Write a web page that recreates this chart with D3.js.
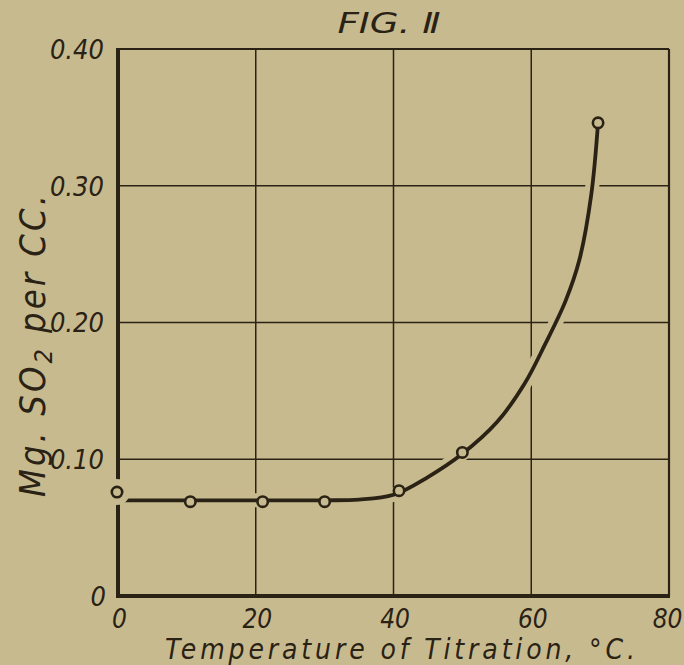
<!DOCTYPE html>
<html>
<head>
<meta charset="utf-8">
<script src="https://cdn.jsdelivr.net/npm/d3@7"></script>
<style>
  html, body { margin: 0; padding: 0; background: #c8ba8f; }
  svg text { font-family: "DejaVu Sans Condensed", "DejaVu Sans", sans-serif; font-stretch: condensed; font-style: oblique; fill: #2a2214; }
</style>
</head>
<body>
<script>
// axis ticks
const xTicks = [0, 20, 40, 60, 80];
const yTicks = [0, 0.1, 0.2, 0.3, 0.4];
const yTickLabels = ["0", "0.10", "0.20", "0.30", "0.40"];

// observed points (circles)
const tempObs = [0, 10.5, 21, 30, 40.8, 50, 69.7];
const so2Obs = [0.076, 0.069, 0.069, 0.069, 0.077, 0.105, 0.346];

// hand drawn smooth curve through the points
const curveTemp = [0, 10, 20, 30, 35, 40, 45, 50, 55, 59, 62, 65, 67, 68.7, 69.7];
const curveSo2 = [0.070, 0.070, 0.070, 0.070, 0.0705, 0.074, 0.087, 0.104, 0.127, 0.155, 0.184, 0.216, 0.246, 0.293, 0.346];

const W = 684, H = 665;
const ink = "#2a2214", paper = "#c8ba8f";

const svg = d3.select("body").append("svg")
    .attr("width", W)
    .attr("height", H);

svg.append("rect").attr("width", W).attr("height", H).attr("fill", paper);

const x = d3.scaleLinear().domain([0, 80]).range([118, 669]);
const y = d3.scaleLinear().domain([0, 0.4]).range([596, 49]);

// grid lines
const grid = svg.append("g").attr("stroke", ink);
grid.selectAll("line.gx")
    .data(xTicks.slice(1, -1))
    .enter().append("line")
    .attr("class", "gx")
    .attr("x1", d => x(d)).attr("x2", d => x(d))
    .attr("y1", y(0.4)).attr("y2", y(0))
    .attr("stroke-width", 1.5);
grid.selectAll("line.gy")
    .data(yTicks.slice(1, -1))
    .enter().append("line")
    .attr("class", "gy")
    .attr("x1", x(0)).attr("x2", x(80))
    .attr("y1", d => y(d)).attr("y2", d => y(d))
    .attr("stroke-width", 1.5);

// top and right border, thinner
grid.append("line")
    .attr("x1", x(0)).attr("x2", x(80))
    .attr("y1", y(0.4)).attr("y2", y(0.4))
    .attr("stroke-width", 2.2);
grid.append("line")
    .attr("x1", x(80)).attr("x2", x(80))
    .attr("y1", y(0.4)).attr("y2", y(0))
    .attr("stroke-width", 2.2);

// heavy left and bottom axes
grid.append("line")
    .attr("x1", x(0)).attr("x2", x(0))
    .attr("y1", y(0.4) - 1).attr("y2", y(0) + 2)
    .attr("stroke-width", 4);
grid.append("line")
    .attr("x1", x(0) - 2).attr("x2", x(80) + 1)
    .attr("y1", y(0)).attr("y2", y(0))
    .attr("stroke-width", 4);

// curve
const pts = curveTemp.map((t, i) => [t, curveSo2[i]]);
const line = d3.line()
    .x(d => x(d[0]))
    .y(d => y(d[1]))
    .curve(d3.curveCatmullRom.alpha(0.5));

// paper-coloured halo so grid lines break where the curve passes
svg.append("path")
    .datum(pts.filter(d => d[0] >= 2))
    .attr("d", line)
    .attr("fill", "none")
    .attr("stroke", paper)
    .attr("stroke-width", 14);
svg.append("path")
    .datum(pts)
    .attr("d", line)
    .attr("fill", "none")
    .attr("stroke", ink)
    .attr("stroke-width", 3.8)
    .attr("stroke-linecap", "round");

const obs = tempObs.map((t, i) => [t, so2Obs[i]]);
svg.selectAll("circle.halo")
    .data(obs.slice(0, 1))
    .enter().append("circle")
    .attr("class", "halo")
    .attr("cx", d => x(d[0]) - 1)
    .attr("cy", d => y(d[1]))
    .attr("r", 13)
    .attr("fill", paper);
svg.selectAll("circle.pt")
    .data(obs)
    .enter().append("circle")
    .attr("class", "pt")
    .attr("cx", (d, i) => x(d[0]) - (i === 0 ? 1 : 0))
    .attr("cy", d => y(d[1]))
    .attr("r", 5.2)
    .attr("fill", paper)
    .attr("stroke", ink)
    .attr("stroke-width", 2.6);

// tick labels through axes, with the axis lines themselves hidden
const yAxis = svg.append("g")
    .attr("transform", "translate(" + (x(0) - 14) + ",0)")
    .call(d3.axisLeft(y).tickValues(yTicks).tickSize(0)
        .tickFormat((d, i) => yTickLabels[i]));
yAxis.select(".domain").remove();
yAxis.selectAll("text")
    .attr("font-size", 27)
    .attr("x", 0)
    .attr("dy", "0.35em")
    .style("font-family", null);
yAxis.selectAll(".tick")
    .filter(d => d === 0)
    .select("text")
    .attr("x", 2);

const xAxis = svg.append("g")
    .attr("transform", "translate(0," + (y(0) + 11) + ")")
    .call(d3.axisBottom(x).tickValues(xTicks).tickSize(0));
xAxis.select(".domain").remove();
xAxis.selectAll("text")
    .attr("font-size", 26)
    .attr("x", 1)
    .attr("dy", "0.71em")
    .style("font-family", null);
xAxis.selectAll(".tick")
    .filter(d => d === 80)
    .select("text")
    .attr("x", -2);

// titles
svg.append("text")
    .attr("x", 389)
    .attr("y", 33)
    .attr("text-anchor", "middle")
    .attr("font-size", 28)
    .attr("textLength", 103)
    .attr("lengthAdjust", "spacingAndGlyphs")
    .text("FIG. Ⅱ");

svg.append("text")
    .attr("x", 165)
    .attr("y", 659)
    .attr("font-size", 28)
    .attr("textLength", 470)
    .attr("lengthAdjust", "spacing")
    .text("Temperature of Titration, °C.");

const yTitle = svg.append("text")
    .attr("transform", "translate(45,346) rotate(-90)")
    .attr("text-anchor", "middle")
    .attr("font-size", 36)
    .attr("textLength", 302)
    .attr("lengthAdjust", "spacing");
yTitle.append("tspan").text("Mg. SO");
yTitle.append("tspan").attr("dy", 7).attr("font-size", 25).text("2");
yTitle.append("tspan").attr("dy", -7).text(" per CC.");
</script>
</body>
</html>
